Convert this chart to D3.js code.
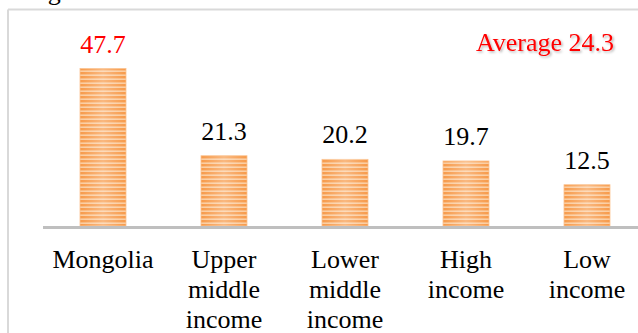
<!DOCTYPE html>
<html>
<head>
<meta charset="utf-8">
<script src="https://cdn.jsdelivr.net/npm/d3@7"></script>
<style>
  html, body { margin: 0; padding: 0; background: #fff; }
  svg { display: block; }
  svg text { font-family: "Liberation Serif", "DejaVu Serif", serif; }
</style>
</head>
<body>
<svg id="chart" width="638" height="333"></svg>
<script>
// Chart data
const categories = ["Mongolia", "Upper middle income", "Lower middle income", "High income", "Low income"];
const categoryLines = [["Mongolia"], ["Upper", "middle", "income"], ["Lower", "middle", "income"], ["High", "income"], ["Low", "income"]];
const values = [47.7, 21.3, 20.2, 19.7, 12.5];
const averageValue = 24.3;
const averageLabel = "Average " + averageValue.toFixed(1);

const svg = d3.select("#chart");
const W = 638, H = 333;

// Outer frame (top and left edges visible)
svg.append("line").attr("x1", 8).attr("x2", W + 5).attr("y1", 9.5).attr("y2", 9.5)
  .attr("stroke", "#d9d9d9").attr("stroke-width", 2);
svg.append("line").attr("x1", 8).attr("x2", 8).attr("y1", 9.5).attr("y2", H + 5)
  .attr("stroke", "#d9d9d9").attr("stroke-width", 2);

// Caption fragment above the frame
svg.append("text").attr("x", 26).attr("y", 0).attr("font-size", 26).attr("fill", "#000").text("Fig");

// Scales
const baseline = 226;
const x = d3.scaleBand().domain(categories).range([42.5, 647.5]).paddingInner(0.62).paddingOuter(0.31);
const y = d3.scaleLinear().domain([0, 50]).range([baseline, baseline - 165]);

// Bar fill: horizontal stripes with a soft centre highlight
const defs = svg.append("defs");
const pat = defs.append("pattern").attr("id", "stripes").attr("patternUnits", "userSpaceOnUse")
  .attr("width", 8).attr("height", 4);
pat.append("rect").attr("width", 8).attr("height", 4).attr("fill", "#fbcc9f");
pat.append("rect").attr("width", 8).attr("height", 2.4).attr("fill", "#f79a4a");
const grad = defs.append("linearGradient").attr("id", "shine").attr("x1", "0").attr("x2", "1").attr("y1", "0").attr("y2", "0");
grad.append("stop").attr("offset", "0%").attr("stop-color", "#fff").attr("stop-opacity", 0);
grad.append("stop").attr("offset", "50%").attr("stop-color", "#fff").attr("stop-opacity", 0.3);
grad.append("stop").attr("offset", "100%").attr("stop-color", "#fff").attr("stop-opacity", 0);

const bars = svg.append("g").selectAll("g").data(categories).join("g");
bars.append("rect")
  .attr("x", d => x(d)).attr("width", x.bandwidth())
  .attr("y", (d, i) => y(values[i])).attr("height", (d, i) => baseline - y(values[i]))
  .attr("fill", "url(#stripes)").attr("stroke", "#fbc08c").attr("stroke-width", 0.8);
bars.append("rect")
  .attr("x", d => x(d)).attr("width", x.bandwidth())
  .attr("y", (d, i) => y(values[i])).attr("height", (d, i) => baseline - y(values[i]))
  .attr("fill", "url(#shine)");

// Category axis line
svg.append("line").attr("x1", 43).attr("x2", W).attr("y1", 227.5).attr("y2", 227.5)
  .attr("stroke", "#bfbfbf").attr("stroke-width", 3);

// Value labels
svg.append("g").selectAll("text").data(categories).join("text")
  .attr("x", d => x(d) + x.bandwidth() / 2)
  .attr("y", (d, i) => y(values[i]) - 16)
  .attr("text-anchor", "middle").attr("font-size", 26)
  .attr("fill", (d, i) => i === 0 ? "#ff0000" : "#000")
  .text((d, i) => values[i].toFixed(1));

// Category labels (multi-line)
const cat = svg.append("g").selectAll("text").data(categories).join("text")
  .attr("x", d => x(d) + x.bandwidth() / 2)
  .attr("y", 268)
  .attr("text-anchor", "middle").attr("font-size", 26).attr("fill", "#000");
cat.selectAll("tspan").data((d, i) => categoryLines[i]).join("tspan")
  .attr("x", function () { return d3.select(this.parentNode).attr("x"); })
  .attr("dy", (d, j) => j === 0 ? 0 : 30)
  .text(d => d);

// Average annotation with soft shadow
const filt = defs.append("filter").attr("id", "shadow").attr("x", "-10%").attr("y", "-20%").attr("width", "120%").attr("height", "150%");
filt.append("feDropShadow").attr("dx", 1.5).attr("dy", 1.5).attr("stdDeviation", 1).attr("flood-color", "#000").attr("flood-opacity", 0.3);
svg.append("text").attr("x", 614).attr("y", 51).attr("text-anchor", "end")
  .attr("font-size", 26).attr("fill", "#ff0000").attr("filter", "url(#shadow)")
  .text(averageLabel);
</script>
</body>
</html>
